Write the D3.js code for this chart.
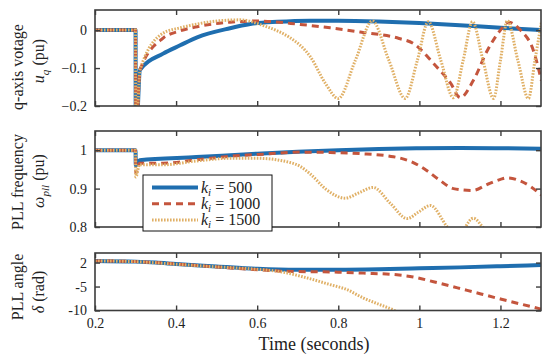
<!DOCTYPE html>
<html>
<head>
<meta charset="utf-8">
<script src="https://cdn.jsdelivr.net/npm/d3@7"></script>
<style>
  body { margin: 0; background: #fff; }
  svg { display: block; }
  .frame { fill: none; stroke: #3c3c3c; stroke-width: 1.6; }
  .tick line { stroke: #3c3c3c; stroke-width: 1.4; }
</style>
</head>
<body>
<svg id="chart" width="552" height="360"></svg>
<script>
// gains shown in legend
const gains = [500, 1000, 1500];
const xTicks = [0.2, 0.4, 0.6, 0.8, 1, 1.2];

// q-axis voltage u_q (pu), [time, value]
const uq500 = [[0.2,0],[0.3,0],[0.3005,-0.3],[0.311,-0.105],[0.368,-0.062],[0.41,-0.04],[0.452,-0.019],
  [0.533,0.005],[0.583,0.016],[0.65,0.022],[0.73,0.025],[0.8,0.025],[0.9,0.023],[1.0,0.019],[1.1,0.013],
  [1.2,0.006],[1.3,0.0]];
const uq1000 = [[0.2,0],[0.3,0],[0.3005,-0.3],[0.311,-0.105],[0.368,-0.021],[0.41,-0.002],[0.452,0.009],
  [0.533,0.021],[0.6,0.024],[0.706,0.015],[0.78,0.006],[0.854,-0.005],[0.95,-0.022],[0.985,-0.035],
  [1.035,-0.088],[1.077,-0.14],[1.101,-0.178],[1.133,-0.133],[1.168,-0.053],[1.2,0.0],[1.22,0.021],
  [1.249,0.0],[1.281,-0.053],[1.301,-0.133]];
const uq1500 = [[0.2,0],[0.3,0],[0.3005,-0.3],[0.311,-0.105],[0.368,-0.008],[0.41,0.006],[0.452,0.016],
  [0.501,0.024],[0.558,0.027],[0.615,0.012],[0.681,-0.02],[0.706,-0.04],[0.731,-0.07],[0.768,-0.14],
  [0.8,-0.18],[0.842,-0.08],[0.884,0.024],[0.925,-0.08],[0.965,-0.18],[0.995,-0.08],[1.022,0.022],
  [1.053,-0.08],[1.084,-0.178],[1.108,-0.08],[1.131,0.022],[1.157,-0.08],[1.183,-0.18],[1.2,-0.08],
  [1.217,0.025],[1.243,-0.08],[1.269,-0.18],[1.285,-0.08],[1.301,0.02]];

// PLL frequency omega_pll (pu)
const wpll500 = [[0.2,1],[0.3,1],[0.3005,0.96],[0.31,0.974],[0.45,0.982],[0.6,0.991],[0.7,0.996],
  [0.8,1.0],[0.9,1.003],[1.0,1.005],[1.1,1.006],[1.2,1.005],[1.3,1.004]];
const wpll1000 = [[0.2,1],[0.3,1],[0.3005,0.94],[0.31,0.966],[0.368,0.966],[0.45,0.975],[0.533,0.984],
  [0.62,0.99],[0.706,0.995],[0.78,0.994],[0.854,0.991],[0.936,0.983],[0.98,0.97],[1.017,0.948],
  [1.05,0.922],[1.084,0.9],[1.131,0.895],[1.17,0.912],[1.2,0.924],[1.217,0.928],[1.249,0.92],
  [1.275,0.905],[1.301,0.883]];
const wpll1500 = [[0.2,1],[0.3,1],[0.3005,0.93],[0.31,0.962],[0.368,0.962],[0.45,0.972],[0.533,0.979],
  [0.6,0.979],[0.681,0.968],[0.706,0.958],[0.731,0.938],[0.77,0.898],[0.817,0.875],[0.851,0.889],
  [0.886,0.903],[0.928,0.862],[0.97,0.822],[0.998,0.839],[1.027,0.856],[1.069,0.8],[1.1,0.765],
  [1.114,0.8],[1.133,0.823],[1.156,0.8],[1.19,0.75],[1.25,0.79],[1.3,0.74]];

// PLL angle delta (rad)
const delta500 = [[0.2,0.35],[0.3,0.2],[0.35,0],[0.4,-0.3],[0.5,-0.8],[0.6,-1.3],[0.7,-1.5],[0.8,-1.5],
  [0.9,-1.4],[1.0,-1.2],[1.1,-1.0],[1.2,-0.75],[1.3,-0.5]];
const delta1000 = [[0.2,0.35],[0.3,0.2],[0.35,0],[0.4,-0.3],[0.5,-0.9],[0.583,-1.4],[0.664,-1.8],
  [0.8,-2.0],[0.862,-2.2],[0.95,-2.6],[0.985,-3.0],[1.035,-4.0],[1.118,-5.8],[1.2,-7.6],[1.3,-9.7]];
const delta1500 = [[0.2,0.35],[0.3,0.2],[0.35,-0.05],[0.4,-0.35],[0.501,-0.9],[0.583,-1.3],
  [0.664,-2.0],[0.714,-3.0],[0.78,-4.6],[0.82,-5.6],[0.862,-7.4],[0.9,-8.7],[0.936,-9.9],[0.96,-11]];

// y tick values and the labels printed next to them
const uqTicks = [0, -0.1, -0.2];
const wpllTicks = [1, 0.9, 0.8];
const deltaTicks = [0, -5, -10];
const deltaTickLabels = ["2", "-5", "-10"];

const styles = [
  { color: "#1f6eaf", width: 4, dash: null },
  { color: "#c4553d", width: 3, dash: "7,5" },
  { color: "#e0b066", width: 3, dash: "1.6,1.4" }
];

const FONT = "Liberation Serif";
const svg = d3.select("#chart");
const left = 95, right = 541;

const x = d3.scaleLinear().domain([0.2, 1.3]).range([left, right]);

const panels = [
  { id: "p1", top: 10, bottom: 106, domain: [-0.2, 0.053], ticks: uqTicks,
    fmt: d => d === 0 ? "0" : d3.format(".1f")(d), series: [uq500, uq1000, uq1500],
    label1: [{ t: "q-axis votage" }], y1: 67,
    label2: [{ t: "u", i: true }, { t: "q", i: true, sub: true }, { t: " (pu)" }], y2: 61 },
  { id: "p2", top: 131, bottom: 227, domain: [0.8, 1.05], ticks: wpllTicks,
    fmt: d => d === 1 ? "1" : d3.format(".1f")(d), series: [wpll500, wpll1000, wpll1500],
    label1: [{ t: "PLL frequency" }], y1: 182,
    label2: [{ t: "ω", i: true }, { t: "pll", i: true, sub: true }, { t: " (pu)" }], y2: 181 },
  { id: "p3", top: 253, bottom: 310.5, domain: [-10, 2], ticks: deltaTicks,
    fmt: (d, i) => deltaTickLabels[i], series: [delta500, delta1000, delta1500],
    label1: [{ t: "PLL angle" }], y1: 287,
    label2: [{ t: "δ", i: true }, { t: " (rad)" }], y2: 292 }
];

function serif(sel, size) {
  return sel.attr("font-family", FONT).style("font-family", FONT)
    .style("font-size", size + "px").attr("fill", "#222");
}

function addLabel(g, parts, xPos, yPos, size) {
  const txt = serif(g.append("text"), size)
    .attr("transform", `translate(${xPos},${yPos}) rotate(-90)`)
    .attr("text-anchor", "middle");
  parts.forEach((p, i) => {
    const ts = txt.append("tspan").text(p.t);
    if (p.i) ts.style("font-style", "italic");
    if (p.sub) ts.attr("dy", 5).style("font-size", (size * 0.7) + "px");
    else if (i > 0 && parts[i - 1].sub) ts.attr("dy", -5);
  });
}

panels.forEach((p, pi) => {
  const y = d3.scaleLinear().domain(p.domain).range([p.bottom, p.top]);
  const g = svg.append("g");

  g.append("clipPath").attr("id", "clip-" + p.id)
    .append("rect")
    .attr("x", left).attr("y", p.top)
    .attr("width", right - left).attr("height", p.bottom - p.top);

  const line = d3.line()
    .x(d => x(d[0]))
    .y(d => y(d[1]))
    .curve(d3.curveMonotoneX);

  const lines = g.append("g").attr("clip-path", `url(#clip-${p.id})`);
  p.series.forEach((s, si) => {
    lines.append("path")
      .datum(s)
      .attr("d", line)
      .attr("fill", "none")
      .attr("stroke", styles[si].color)
      .attr("stroke-width", styles[si].width)
      .attr("stroke-dasharray", styles[si].dash);
  });

  // 坐標軸（刻度朝內）
  const last = pi === panels.length - 1;
  const bottomAxis = d3.axisBottom(x).tickValues(xTicks).tickSizeInner(-5).tickSizeOuter(0).tickPadding(8)
    .tickFormat(last ? d3.format("") : () => "");
  g.append("g").attr("transform", `translate(0,${p.bottom})`).call(bottomAxis);
  g.append("g").attr("transform", `translate(0,${p.top})`)
    .call(d3.axisTop(x).tickValues(xTicks).tickSizeInner(-5).tickSizeOuter(0).tickFormat(() => ""));
  g.append("g").attr("transform", `translate(${left},0)`)
    .call(d3.axisLeft(y).tickValues(p.ticks).tickSizeInner(-5).tickSizeOuter(0).tickPadding(8).tickFormat(p.fmt));
  g.append("g").attr("transform", `translate(${right},0)`)
    .call(d3.axisRight(y).tickValues(p.ticks).tickSizeInner(-5).tickSizeOuter(0).tickFormat(() => ""));

  g.selectAll(".domain").remove();
  g.selectAll("g").attr("font-family", FONT).attr("font-size", null);
  serif(g.selectAll(".tick text"), 14);

  g.append("rect").attr("class", "frame")
    .attr("x", left).attr("y", p.top)
    .attr("width", right - left).attr("height", p.bottom - p.top);

  addLabel(g, p.label1, 23, p.y1, 16);
  addLabel(g, p.label2, 44, p.y2, 16);
});

// x label
serif(svg.append("text"), 18)
  .attr("x", 314).attr("y", 350)
  .attr("text-anchor", "middle")
  .text("Time (seconds)");

// legend
const legend = svg.append("g");
legend.append("rect")
  .attr("x", 143).attr("y", 175).attr("width", 129).attr("height", 56)
  .attr("fill", "#fff").attr("stroke", "#111").attr("stroke-width", 1);
gains.forEach((k, i) => {
  const ly = 187.5 + i * 16.3;
  legend.append("line")
    .attr("x1", 152).attr("x2", 198).attr("y1", ly).attr("y2", ly)
    .attr("stroke", styles[i].color)
    .attr("stroke-width", styles[i].width)
    .attr("stroke-dasharray", styles[i].dash);
  const t = serif(legend.append("text"), 16).attr("x", 201).attr("y", ly + 5);
  t.append("tspan").style("font-style", "italic").text("k");
  t.append("tspan").style("font-style", "italic").style("font-size", "11px").attr("dy", 3).text("i");
  t.append("tspan").attr("dy", -3).text(" = " + k);
});
</script>
</body>
</html>
